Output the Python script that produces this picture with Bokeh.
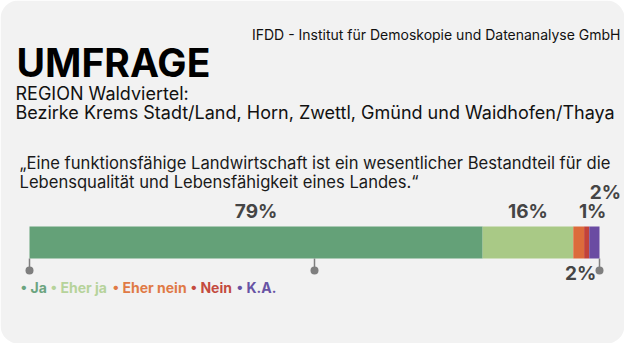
from bokeh.plotting import figure
from bokeh.models import Range1d, ColumnDataSource
from bokeh.core.properties import value
from bokeh.embed import file_html
from bokeh.resources import INLINE

# ---- data ----
categories = ["Ja", "Eher ja", "Eher nein", "Nein", "K.A."]
shares = [79.5, 15.9, 1.9, 0.9, 1.8]          # % (bar widths)
share_labels = ["79%", "16%", "2%", "1%", "2%"]
colors = ["#64a178", "#a9c986", "#dc6b3b", "#c2423a", "#6a4ba2"]
legend_colors = ["#6ba47f", "#b6d39b", "#e07a46", "#c44b3f", "#6753a4"]
axis_ticks = [0, 50, 100]

title = "UMFRAGE"
source_text = "IFDD - Institut für Demoskopie und Datenanalyse GmbH"
region1 = "REGION Waldviertel:"
region2 = "Bezirke Krems Stadt/Land, Horn, Zwettl, Gmünd und Waidhofen/Thaya"
quote1 = "\u201eEine funktionsfähige Landwirtschaft ist ein wesentlicher Bestandteil für die"
quote2 = "Lebensqualität und Lebensfähigkeit eines Landes.\u201c"

# ---- layout ----
W, H = 624, 343
BAR_L, BAR_R = 29, 599
FONT = "Inter"
px_per_pct = (BAR_R - BAR_L) / 100.0

p = figure(width=W, height=H, output_backend="svg", toolbar_location=None,
           x_range=Range1d(0, W), y_range=Range1d(H, 0),
           min_border=0, border_fill_color="#ffffff", background_fill_color="#ffffff",
           outline_line_color=None)
p.axis.visible = False
p.grid.visible = False
p.extra_x_ranges = {"pct": Range1d(-BAR_L / px_per_pct, (W - BAR_L) / px_per_pct)}

# background card
p.quad(left=[0], right=[W], top=[0], bottom=[H], fill_color="#f2f2f2",
       line_color=None, border_radius=18)

# bar segments
lefts, rights = [], []
acc = 0.0
for s in shares:
    lefts.append(acc)
    acc += s
    rights.append(acc)
src = ColumnDataSource(dict(left=lefts, right=rights, color=colors,
                            mid=[(a + b) / 2 for a, b in zip(lefts, rights)],
                            label=share_labels))
p.hbar(y=242, height=32, left="left", right="right", fill_color="color",
       line_color=None, source=src, x_range_name="pct")

# ticks below bar
p.segment(x0=axis_ticks, x1=axis_ticks, y0=[258] * 3, y1=[269] * 3,
          line_color="#7f7f7f", line_width=1.5, x_range_name="pct")
p.scatter(x=axis_ticks, y=[270] * 3, size=8, fill_color="#7f7f7f",
          line_color=None, x_range_name="pct")

# percentage labels
lab_y = [211, 211, 273, 211, 192]
lab_dx = [0, 0, 2, 6, 11]
for i in range(len(categories)):
    p.text(x=[src.data["mid"][i]], y=[lab_y[i]], text=[share_labels[i]],
           x_range_name="pct", x_offset=lab_dx[i],
           text_font=value(FONT), text_font_size="19px", text_font_style="bold",
           text_color="#454545", text_align="center", text_baseline="middle")

# texts
def txt(x, y, t, size, color="#111111", style="normal", baseline="alphabetic", align="left"):
    p.text(x=[x], y=[y], text=[t], text_font=value(FONT), text_font_size=size,
           text_font_style=style, text_color=color, text_align=align,
           text_baseline=baseline)

txt(16, 62, title, "39px", "#000000", "bold")
txt(620, 34, source_text, "14px", "#111111", align="right")
txt(15, 93, region1, "18px", "#111111")
txt(15, 112, region2, "18px", "#111111")
txt(19, 162, quote1, "16.6px", "#1a1a1a")
txt(19, 181, quote2, "16.6px", "#1a1a1a")

# legend
leg_x = [20, 50, 112, 190, 236]
for i, c in enumerate(categories):
    txt(leg_x[i], 287, "\u2022 " + c, "14px", legend_colors[i], "bold", "middle")

open("out.html", "w").write(file_html(p, INLINE))
